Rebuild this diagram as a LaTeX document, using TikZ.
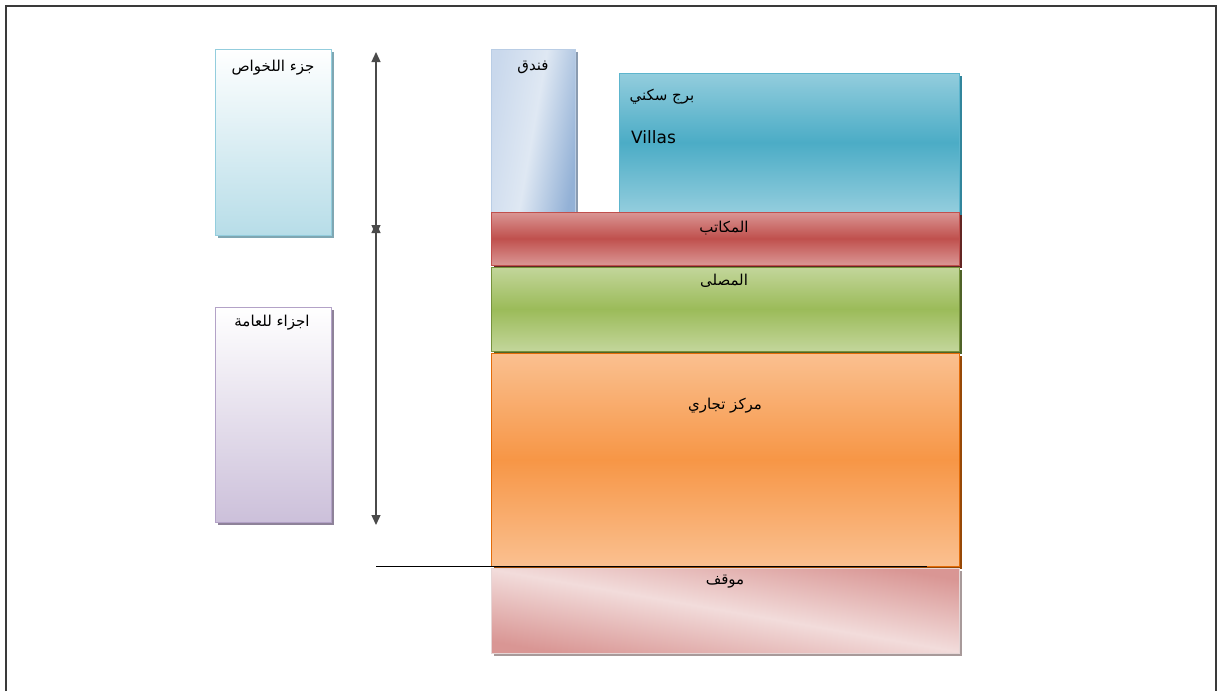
\documentclass[tikz,border=0pt]{standalone}
\usepackage{fontspec}
\setmainfont{DejaVu Sans}
\newfontfamily\arabicfont[Script=Arabic]{DejaVu Sans}
\TeXXeTstate=1
\usetikzlibrary{shadows,arrows.meta}

% palette
\definecolor{frameline}{HTML}{3A3A3A}
\definecolor{dimline}{HTML}{4A4A4A}
\definecolor{privlight}{HTML}{B7DDE8}
\definecolor{privedge}{HTML}{93CDDD}
\definecolor{privshade}{HTML}{7FA7B3}
\definecolor{publight}{HTML}{CCC0DA}
\definecolor{pubedge}{HTML}{B3A2C7}
\definecolor{pubshade}{HTML}{8E8299}
\definecolor{hotelA}{HTML}{C9D8EC}
\definecolor{hotelB}{HTML}{DFE8F3}
\definecolor{hotelC}{HTML}{93B1D6}
\definecolor{hoteledge}{HTML}{B9CDE5}
\definecolor{hotelshade}{HTML}{8A9BB0}
\definecolor{resA}{HTML}{93CDDD}
\definecolor{resB}{HTML}{4BACC6}
\definecolor{resedge}{HTML}{5DB5CD}
\definecolor{resshade}{HTML}{31859C}
\definecolor{offA}{HTML}{DA9694}
\definecolor{offB}{HTML}{C0504D}
\definecolor{offedge}{HTML}{C0504D}
\definecolor{offshade}{HTML}{632523}
\definecolor{mosA}{HTML}{C3D69B}
\definecolor{mosB}{HTML}{9BBB59}
\definecolor{mosedge}{HTML}{76923C}
\definecolor{mosshade}{HTML}{4F6228}
\definecolor{comA}{HTML}{FAC090}
\definecolor{comB}{HTML}{F79646}
\definecolor{comedge}{HTML}{E36C09}
\definecolor{comshade}{HTML}{974806}
\definecolor{parkA}{HTML}{F2DCDB}
\definecolor{parkB}{HTML}{D99694}
\definecolor{parkedge}{HTML}{E6D6D6}
\definecolor{parkshade}{HTML}{A89A9A}

\newcommand{\ar}[1]{{\arabicfont\beginR #1\endR}}

\begin{document}
\begin{tikzpicture}[x=1pt,y=-1pt,
  block/.style={anchor=north west, inner sep=0pt, outer sep=0pt, line width=0.8pt,
    drop shadow={shadow xshift=2.5pt, shadow yshift=-2.5pt, opacity=1, fill=#1}},
  lbl/.style={inner sep=0pt, font=\fontsize{15}{17}\selectfont, text=black},
  dim/.style={draw=dimline, line width=1.3pt,
    {Triangle[width=9pt,length=10pt]}-{Triangle[width=9pt,length=10pt]}},
]
\useasboundingbox (0,0) rectangle (1223,691);
\fill[white] (0,0) rectangle (1223,691);

% page frame
\draw[frameline, line width=1.5pt] (6,691) -- (6,6) -- (1216,6) -- (1216,691);

% private / public zones on the left
\node[block=privshade, draw=privedge, top color=white, bottom color=privlight,
  minimum width=116pt, minimum height=186pt] (priv) at (215,49) {};
\node[block=pubshade, draw=pubedge, top color=white, bottom color=publight,
  minimum width=116pt, minimum height=215pt] (pub) at (215,307) {};

% building section
\node[block=hotelshade, draw=hoteledge, left color=hotelA, right color=hotelC,
  middle color=hotelB, shading angle=80,
  minimum width=84pt, minimum height=163pt] (hotel) at (491,49) {};
\node[block=resshade, draw=resedge, top color=resA, bottom color=resA, middle color=resB,
  minimum width=340pt, minimum height=139pt] (res) at (619,73) {};
\node[block=offshade, draw=offedge, top color=offA, bottom color=offA, middle color=offB,
  minimum width=468pt, minimum height=53pt] (off) at (491,212) {};
\node[block=mosshade, draw=mosedge, top color=mosA, bottom color=mosA, middle color=mosB,
  minimum width=468pt, minimum height=84pt] (mos) at (491,267) {};
\node[block=comshade, draw=comedge, top color=comA, bottom color=comA, middle color=comB,
  minimum width=468pt, minimum height=213pt] (com) at (491,353) {};
\node[block=parkshade, draw=parkedge, top color=parkB, bottom color=parkB, middle color=parkA,
  shading angle=-10,
  minimum width=468pt, minimum height=85pt] (park) at (491,568) {};

% labels
\node[lbl] (privtxt) at (273,68) {\ar{جزء اللخواص}};
\node[lbl] (pubtxt) at (272,323) {\ar{اجزاء للعامة}};
\node[lbl] (hoteltxt) at (533,67) {\ar{فندق}};
\node[lbl] (restxt) at (662,97) {\ar{برج سكني}};
\node[lbl, font=\fontsize{17}{19}\selectfont, anchor=west] (villas) at (631,137) {Villas};
\node[lbl] (offtxt) at (724,228) {\ar{المكاتب}};
\node[lbl] (mostxt) at (724,281) {\ar{المصلى}};
\node[lbl] (comtxt) at (725,406) {\ar{مركز تجاري}};
\node[lbl] (parktxt) at (725,582) {\ar{موقف}};

% height dimensions
\coordinate (uTop) at (376,52);
\coordinate (uBot) at (376,235);
\coordinate (lTop) at (376,223);
\coordinate (lBot) at (376,525);
\draw[dim] (uTop) -- (uBot);
\draw[dim] (lTop) -- (lBot);

% ground line
\coordinate (gA) at (376,566);
\coordinate (gB) at (927,566);
\draw[black, line width=1pt] (gA) -- (gB);
\end{tikzpicture}
\end{document}
